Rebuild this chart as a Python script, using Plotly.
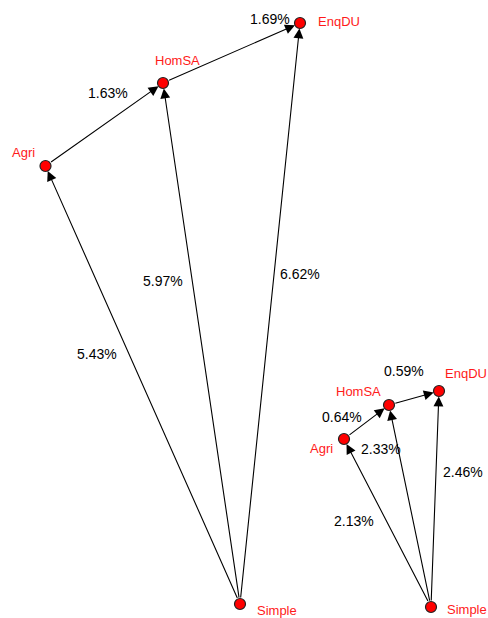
import plotly.graph_objects as go

# ---- data ----
node_names = ["Simple", "Agri", "HomSA", "EnqDU"]

# graph 1 node layout (pixel-like coordinates)
g1_x = [240, 45.5, 163, 300]
g1_y = [604, 166, 83, 23]
# graph 2 node layout
g2_x = [431, 344, 389, 439]
g2_y = [607, 439, 405, 391]

edge_src = ["Simple", "Simple", "Simple", "Agri", "HomSA"]
edge_tgt = ["Agri", "HomSA", "EnqDU", "HomSA", "EnqDU"]
g1_pct = ["5.43%", "5.97%", "6.62%", "1.63%", "1.69%"]
g2_pct = ["2.13%", "2.33%", "2.46%", "0.64%", "0.59%"]

# label placement (text positions)
g1_lab_x = [97, 163, 300, 108, 270]
g1_lab_y = [354, 281, 274, 93, 19]
g2_lab_x = [354, 381, 463, 342, 404]
g2_lab_y = [521, 449, 472, 417, 371]

g1_name_x = [255, 23, 177, 316]
g1_name_y = [610, 152, 60, 21]
g1_name_anchor = ["left", "center", "center", "left"]
g2_name_x = [445, 321, 358, 466]
g2_name_y = [609, 448, 391, 373]
g2_name_anchor = ["left", "center", "center", "center"]

FONT = "Liberation Sans, Arial, sans-serif"
RED = "#ff1a1a"

fig = go.Figure()
annotations = []

for xs, ys, pct, lx, ly, nx, ny, anc in [
    (g1_x, g1_y, g1_pct, g1_lab_x, g1_lab_y, g1_name_x, g1_name_y, g1_name_anchor),
    (g2_x, g2_y, g2_pct, g2_lab_x, g2_lab_y, g2_name_x, g2_name_y, g2_name_anchor),
]:
    pos = {n: (xs[i], ys[i]) for i, n in enumerate(node_names)}
    for s, t in zip(edge_src, edge_tgt):
        sx, sy = pos[s]
        tx, ty = pos[t]
        annotations.append(dict(
            x=tx, y=ty, ax=sx, ay=sy, xref="x", yref="y", axref="x", ayref="y",
            showarrow=True, arrowhead=2, arrowsize=1.8, arrowwidth=1.1,
            arrowcolor="black", standoff=5.5, startstandoff=5, text=""))
    for i, p in enumerate(pct):
        annotations.append(dict(x=lx[i], y=ly[i], xref="x", yref="y", text=p,
                                showarrow=False, font=dict(family=FONT, size=14, color="black")))
    for i, n in enumerate(node_names):
        annotations.append(dict(x=nx[i], y=ny[i], xref="x", yref="y", text=n,
                                showarrow=False, xanchor=anc[i],
                                font=dict(family=FONT, size=13, color=RED)))
    fig.add_trace(go.Scatter(
        x=xs, y=ys, mode="markers", hoverinfo="text", text=node_names,
        marker=dict(size=11, color="#ff0000", line=dict(color="#222222", width=1.2)),
        showlegend=False))

fig.update_layout(
    width=488, height=618, margin=dict(l=0, r=0, t=0, b=0),
    paper_bgcolor="white", plot_bgcolor="white",
    xaxis=dict(range=[0, 488], visible=False, fixedrange=True),
    yaxis=dict(range=[618, 0], visible=False, fixedrange=True),
    annotations=annotations,
)

fig.write_html("out.html", config={"displayModeBar": False},
               post_script="document.body.style.margin='0';")
